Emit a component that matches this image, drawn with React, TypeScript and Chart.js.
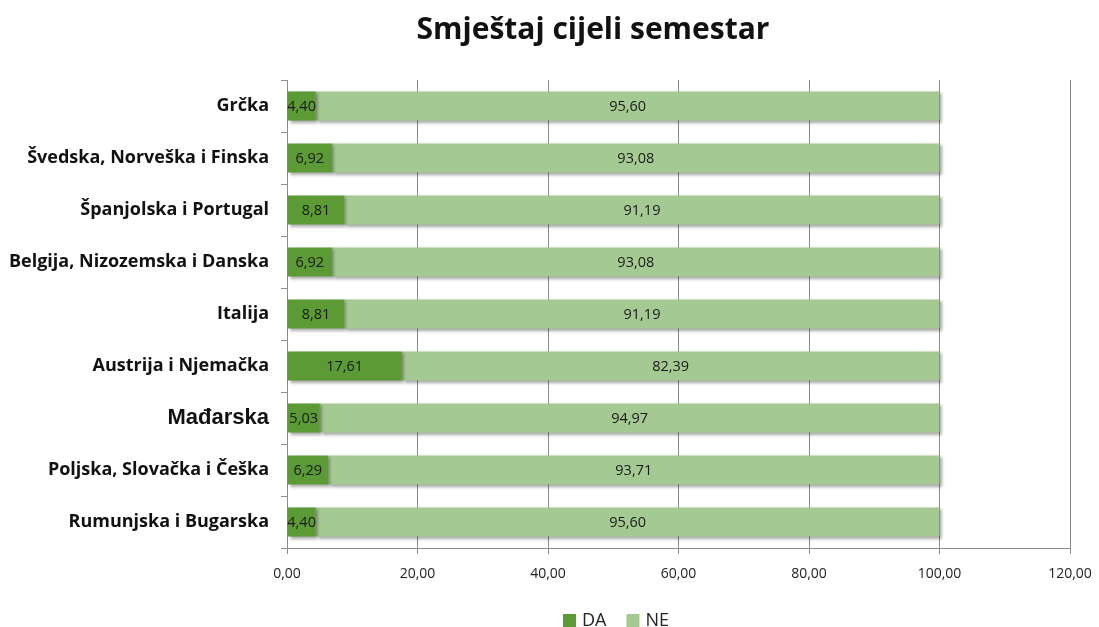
import React, { useEffect, useRef } from "react";
import { Chart, registerables } from "chart.js";

Chart.register(...registerables);

const titleText = "Smještaj cijeli semestar";
const categories = [
  "Grčka",
  "Švedska, Norveška i Finska",
  "Španjolska i Portugal",
  "Belgija, Nizozemska i Danska",
  "Italija",
  "Austrija i Njemačka",
  "Mađarska",
  "Poljska, Slovačka i Češka",
  "Rumunjska i Bugarska",
];
const seriesNames = ["DA", "NE"];
const daValues = [4.4, 6.92, 8.81, 6.92, 8.81, 17.61, 5.03, 6.29, 4.4];
const neValues = [95.6, 93.08, 91.19, 93.08, 91.19, 82.39, 94.97, 93.71, 95.6];
const xTicks = [0, 20, 40, 60, 80, 100, 120];
const colors = ["#5b9a35", "#a5c993"];

const fmt = (v: number) => v.toFixed(2).replace(".", ",");

export default function App() {
  const ref = useRef<HTMLCanvasElement | null>(null);
  useEffect(() => {
    document.body.style.margin = "0";
    const canvas = ref.current!;
    const shadowAndLabels = {
      id: "shadowAndLabels",
      beforeDatasetsDraw(chart: any) {
        const ctx = chart.ctx;
        ctx.save();
        ctx.shadowColor = "rgba(0,0,0,0.35)";
        ctx.shadowBlur = 3;
        ctx.shadowOffsetX = 2;
        ctx.shadowOffsetY = 2;
      },
      afterDatasetsDraw(chart: any) {
        const ctx = chart.ctx;
        ctx.restore();
        ctx.save();
        ctx.font = "14.5px 'Open Sans'";
        ctx.fillStyle = "#1a1a1a";
        ctx.textAlign = "center";
        ctx.textBaseline = "middle";
        chart.data.datasets.forEach((ds: any, di: number) => {
          const meta = chart.getDatasetMeta(di);
          meta.data.forEach((el: any, i: number) => {
            const cx = (el.x + el.base) / 2;
            ctx.fillText(fmt(ds.data[i]), cx, el.y + 1);
          });
        });
        ctx.restore();
      },
      afterDraw(chart: any) {
        const ctx = chart.ctx;
        ctx.save();
        ctx.font = "bold 30px 'Open Sans'";
        ctx.fillStyle = "#111";
        ctx.textAlign = "center";
        ctx.textBaseline = "middle";
        ctx.fillText(titleText, 593, 30);
        ctx.font = "18px 'Open Sans'";
        ctx.textAlign = "left";
        let x = 563;
        const y = 620;
        chart.data.datasets.forEach((ds: any) => {
          ctx.fillStyle = ds.backgroundColor;
          ctx.fillRect(x, y - 6, 13, 13);
          ctx.fillStyle = "#222";
          ctx.fillText(ds.label, x + 19, y + 1);
          x += 19 + ctx.measureText(ds.label).width + 20;
        });
        ctx.restore();
      },
    };
    const chart = new Chart(canvas, {
      type: "bar",
      data: {
        labels: categories,
        datasets: [
          {
            label: seriesNames[0],
            data: daValues,
            backgroundColor: colors[0],
            barPercentage: 0.56,
            categoryPercentage: 1,
          },
          {
            label: seriesNames[1],
            data: neValues,
            backgroundColor: colors[1],
            barPercentage: 0.56,
            categoryPercentage: 1,
          },
        ],
      },
      options: {
        indexAxis: "y",
        animation: false,
        responsive: false,
        layout: { padding: { left: 0, right: 29, top: 80, bottom: 0 } },
        scales: {
          x: {
            stacked: true,
            min: 0,
            max: 120,
            afterBuildTicks: (scale: any) => {
              scale.ticks = xTicks.map((v) => ({ value: v }));
            },
            ticks: {
              callback: (v: any) => fmt(Number(v)),
              font: { family: "Open Sans", size: 14 },
              color: "#222",
              padding: 12,
              maxRotation: 0,
            },
            grid: { color: "#8c8c8c", tickLength: 6, lineWidth: 1 },
            border: { color: "#8c8c8c" },
            afterFit: (scale: any) => {
              scale.height = 79;
              scale.paddingRight = 0;
            },
          },
          y: {
            stacked: true,
            ticks: {
              font: (c: any) =>
                categories[c.index] === "Mađarska"
                  ? { family: "Liberation Sans", size: 22, weight: "bold" }
                  : { family: "Open Sans", size: 18, weight: "bold" },
              color: "#111",
              padding: 12,
            },
            grid: { drawOnChartArea: false, tickLength: 6, color: "#8c8c8c", offset: true },
            border: { color: "#8c8c8c" },
            afterFit: (scale: any) => {
              scale.width = 287;
            },
          },
        },
        plugins: {
          title: { display: false },
          legend: { display: false },
          tooltip: { enabled: false },
        },
      },
      plugins: [shadowAndLabels],
    } as any);
    return () => chart.destroy();
  }, []);
  return (
    <div style={{ width: 1099, height: 627 }}>
      <canvas ref={ref} width={1099} height={627} style={{ display: "block" }} />
    </div>
  );
}
